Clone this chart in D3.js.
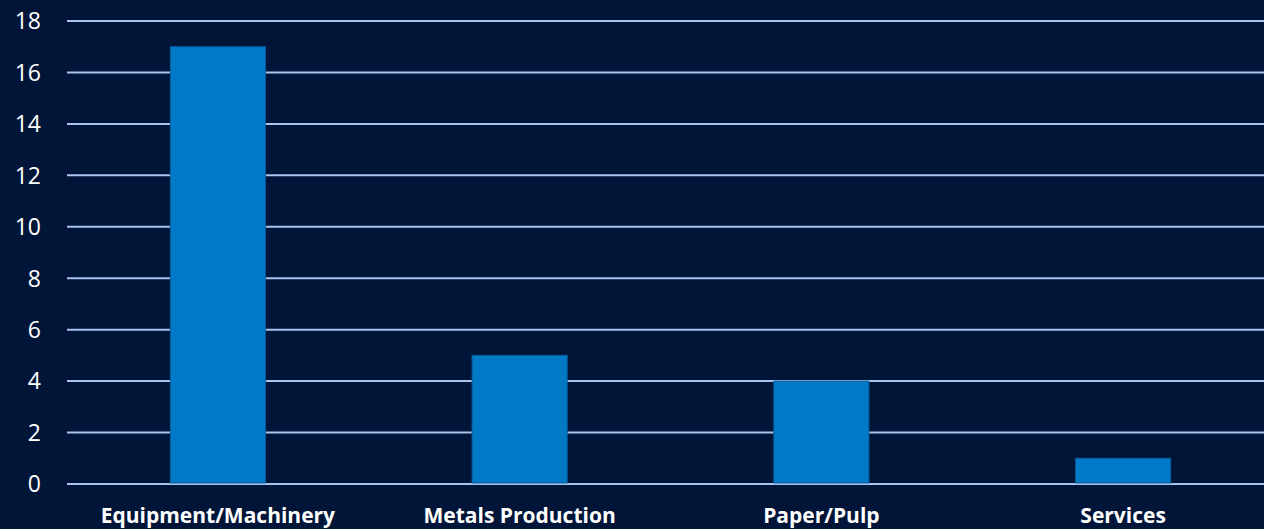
<!DOCTYPE html>
<html><head><meta charset="utf-8">
<script src="https://cdn.jsdelivr.net/npm/d3@7"></script>
<style>
html,body{margin:0;padding:0;background:#001538;}
svg{display:block;}
</style></head>
<body>
<svg id="chart" width="1264" height="529"></svg>
<script>
const categories = ["Equipment/Machinery", "Metals Production", "Paper/Pulp", "Services"];
const values = [17, 5, 4, 1];
const yTicks = [0, 2, 4, 6, 8, 10, 12, 14, 16, 18];

const W = 1264, H = 529;
const svg = d3.select("#chart");
svg.append("rect").attr("width", W).attr("height", H).attr("fill", "#001538");

const x = d3.scaleBand().domain(categories).range([67, 1274]).paddingInner(0.685).paddingOuter(0.3425);
const y = d3.scaleLinear().domain([0, 18]).range([484, 21]);

const font = "'Source Sans Pro', 'Open Sans', 'Noto Sans', sans-serif";

// grid
svg.append("g").selectAll("line").data(yTicks).join("line")
  .attr("x1", 67).attr("x2", W)
  .attr("y1", d => y(d)).attr("y2", d => y(d))
  .attr("stroke", "#a9c4ee").attr("stroke-width", 2);

// y labels
svg.append("g").selectAll("text").data(yTicks).join("text")
  .attr("x", 41).attr("y", d => y(d)).attr("dy", "0.36em")
  .attr("text-anchor", "end").attr("fill", "#ffffff")
  .style("font-family", font).style("font-size", "23px")
  .text(d => d);

// bars
svg.append("g").selectAll("rect").data(values).join("rect")
  .attr("x", (d, i) => x(categories[i]))
  .attr("width", x.bandwidth())
  .attr("y", d => y(d))
  .attr("height", d => y(0) - 1 - y(d))
  .attr("fill", "#0079c6")
  .attr("stroke", "#0a5fa0").attr("stroke-width", 1);

// x labels
svg.append("g").selectAll("text").data(categories).join("text")
  .attr("x", d => x(d) + x.bandwidth() / 2).attr("y", 523)
  .attr("text-anchor", "middle").attr("fill", "#ffffff")
  .style("font-family", font).style("font-size", "21px").style("font-weight", "700")
  .text(d => d);
</script>
</body></html>
